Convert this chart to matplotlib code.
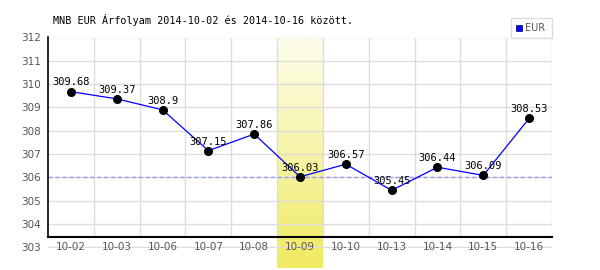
import matplotlib.pyplot as plt
import numpy as np
from matplotlib.colors import LinearSegmentedColormap
from matplotlib.patches import Rectangle

days = ['10-02', '10-03', '10-06', '10-07', '10-08', '10-09',
        '10-10', '10-13', '10-14', '10-15', '10-16']
eur = [309.68, 309.37, 308.9, 307.15, 307.86, 306.03,
       306.57, 305.45, 306.44, 306.09, 308.53]
highlight = '10-09'
yticks = [303, 304, 305, 306, 307, 308, 309, 310, 311, 312]

fig = plt.figure(figsize=(6, 2.7), dpi=100)
ax = fig.add_axes([48 / 600, 1 - 247.5 / 270, 504 / 600, 210 / 270])
x = np.arange(len(days))

# yellow highlight band for the selected day, running down past the axis
hi = days.index(highlight)
grad = np.linspace(0, 1, 100).reshape(-1, 1)
cmap = LinearSegmentedColormap.from_list('hl', ['#fdfdec', '#f0eb62'])
ax.imshow(grad, cmap=cmap, aspect='auto', extent=(hi - 0.5, hi + 0.5, 302.1, 312),
          clip_on=False, zorder=0)
ax.set_xlim(-0.5, len(days) - 0.5)
ax.set_ylim(303, 312)

# grid
for v in yticks:
    ax.axhline(v, color='#dddddd', lw=1, zorder=1)
for b in np.arange(0.5, len(days), 1):
    ax.plot([b, b], [303.47, 312], color='#dddddd', lw=1, zorder=1)

ax.axhline(eur[hi], color='#9999ee', lw=1, ls=(0, (3, 2)), zorder=2)

ax.plot(x, eur, color='#0000ff', lw=0.9, zorder=3)
ax.plot(x, eur, 'o', color='black', ms=5.5, zorder=4)
for xi, v in zip(x, eur):
    ax.annotate(f'{v:g}', (xi, v), xytext=(0, 3), textcoords='offset points',
                ha='center', va='bottom', fontsize=7.5, family='DejaVu Sans Mono',
                zorder=5)

for s in ['top', 'right', 'bottom']:
    ax.spines[s].set_visible(False)
ax.spines['left'].set_bounds(303.47, 312)
ax.spines['left'].set_linewidth(1.2)
ax.plot([-0.5, len(days) - 0.5], [303.47, 303.47], color='black', lw=1.5,
        zorder=6, clip_on=False)

ax.set_yticks(yticks)
ax.set_xticks(x)
ax.set_xticklabels(days)
ax.tick_params(axis='both', length=0, colors='#555555', labelsize=7.5)
ax.tick_params(axis='x', pad=-4)
ax.tick_params(axis='y', pad=5)

fig.text(53 / 600, 1 - 20 / 270, 'MNB EUR Árfolyam 2014-10-02 és 2014-10-16 között.',
         family='DejaVu Sans Mono', fontsize=7.3, va='center')

# legend box
lx, ly = 511 / 600, 1 - 38 / 270
fig.patches.append(Rectangle((lx, ly), 41 / 600, 20 / 270, transform=fig.transFigure,
                             facecolor='white', edgecolor='#dddddd', lw=1))
fig.patches.append(Rectangle((lx + 5 / 600, ly + 7 / 270), 6 / 600, 6 / 270,
                             transform=fig.transFigure, facecolor='#0000ff',
                             edgecolor='#000088', lw=0.5))
fig.text(lx + 14 / 600, ly + 10 / 270, 'EUR', fontsize=7, color='#555555', va='center')

fig.savefig('out.png', dpi=100)
